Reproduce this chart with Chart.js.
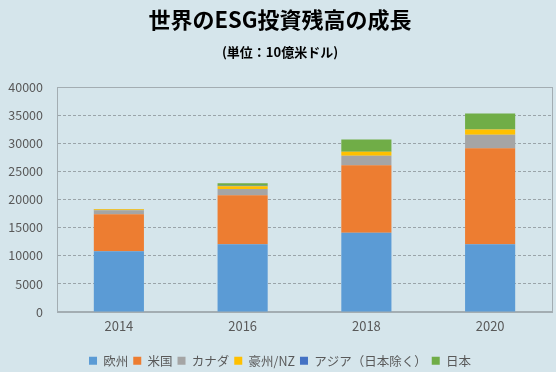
<!DOCTYPE html>
<html>
<head>
<meta charset="utf-8">
<script src="https://cdn.jsdelivr.net/npm/chart.js@4"></script>
<style>
  html, body { margin: 0; padding: 0; background: #d5e5eb; }
  #wrap { width: 556px; height: 372px; }
</style>
</head>
<body>
<div id="wrap"><canvas id="myChart" width="556" height="372"></canvas></div>
<script>
const years = ['2014', '2016', '2018', '2020'];
const europe = [10775, 12040, 14075, 12017];
const usa = [6572, 8723, 11995, 17081];
const canada = [729, 1086, 1699, 2423];
const ausNz = [180, 516, 734, 906];
const asiaExJapan = [53, 52, null, null];
const japan = [7, 474, 2180, 2874];
const yTicks = [0, 5000, 10000, 15000, 20000, 25000, 30000, 35000, 40000];

const FONT = "'Noto Sans CJK JP', 'Noto Sans', sans-serif";

// frame round the plot area, like the spreadsheet original
const frame = {
  id: 'frame',
  afterDraw(chart) {
    const a = chart.chartArea;
    const ctx = chart.ctx;
    ctx.save();
    ctx.strokeStyle = '#a3adb2';
    ctx.lineWidth = 1;
    ctx.strokeRect(Math.round(a.left) + 0.5, Math.round(a.top) + 0.5,
      Math.round(a.right - a.left), Math.round(a.bottom - a.top));
    ctx.restore();
  }
};

const mk = (label, data, color) => ({
  label, data, backgroundColor: color, borderWidth: 0,
  categoryPercentage: 1, barPercentage: 0.405
});

new Chart(document.getElementById('myChart'), {
  type: 'bar',
  data: {
    labels: years,
    datasets: [
      mk('欧州', europe, '#5b9bd5'),
      mk('米国', usa, '#ed7d31'),
      mk('カナダ', canada, '#a5a5a5'),
      mk('豪州/NZ', ausNz, '#ffc000'),
      mk('アジア（日本除く）', asiaExJapan, '#4472c4'),
      mk('日本', japan, '#70ad47'),
    ]
  },
  options: {
    responsive: false,
    animation: false,
    layout: { padding: { left: 8, right: 4, top: 0, bottom: -5 } },
    plugins: {
      title: {
        display: true,
        text: '世界のESG投資残高の成長',
        color: '#000',
        font: { family: FONT, size: 22, weight: 'bold' },
        padding: { top: 6, bottom: 4 }
      },
      subtitle: {
        display: true,
        text: '(単位：10億米ドル)',
        color: '#000',
        font: { family: FONT, size: 13, weight: 'bold' },
        padding: { top: 8, bottom: 27 }
      },
      legend: {
        position: 'bottom',
        labels: {
          boxWidth: 8, boxHeight: 8, padding: 5,
          color: '#595959',
          font: { family: FONT, size: 12.5 }
        }
      },
      tooltip: { enabled: false }
    },
    scales: {
      x: {
        stacked: true,
        afterFit: (axis) => { axis.height += 10; },
        grid: { display: false, drawTicks: false },
        border: { color: '#a3adb2' },
        ticks: { color: '#595959', font: { family: FONT, size: 13 }, padding: 6 }
      },
      y: {
        stacked: true,
        min: 0, max: 40000,
        afterBuildTicks: (axis) => { axis.ticks = yTicks.map(v => ({ value: v })); },
        afterFit: (axis) => { axis.width = 49; },
        grid: { color: '#9aa4a9', drawTicks: false },
        border: { display: true, color: '#a3adb2', dash: [3, 2] },
        ticks: {
          color: '#595959', font: { family: FONT, size: 12.5 }, padding: 14,
          callback: (v) => String(v)
        }
      }
    }
  },
  plugins: [frame]
});
</script>
</body>
</html>
